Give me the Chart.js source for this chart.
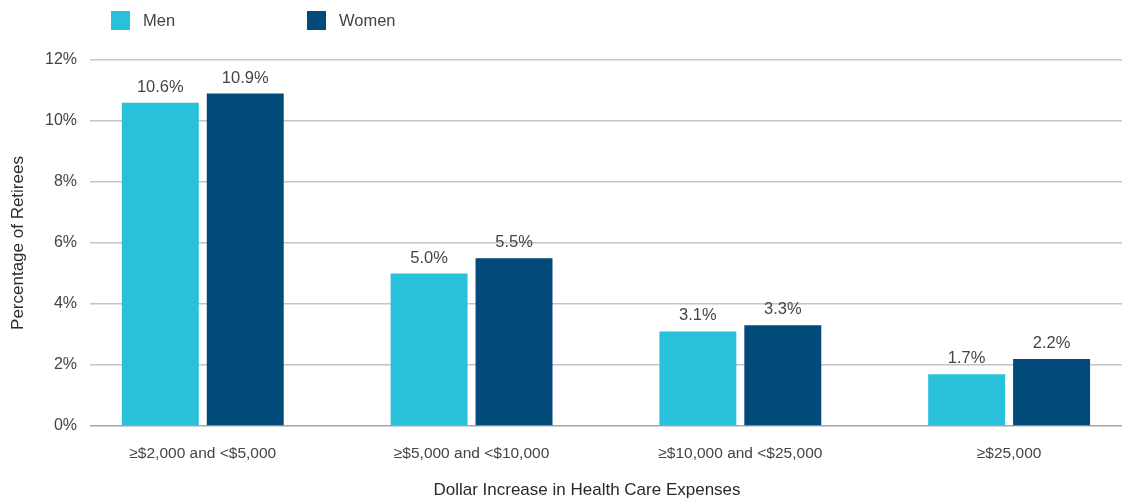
<!DOCTYPE html>
<html>
<head>
<meta charset="utf-8">
<script src="https://cdn.jsdelivr.net/npm/chart.js@4/dist/chart.umd.min.js"></script>
<style>
  body { margin: 0; background: #fff; font-family: "Liberation Sans", Arial, sans-serif; }
  #wrap { position: relative; width: 1122px; height: 502px; overflow: hidden; }
  #legend { position: absolute; top: 11px; left: 111px; display: flex; }
  .item { display: flex; align-items: center; width: 196px; font-size: 16.5px; color: #444; }
  .box { width: 19px; height: 19px; margin-right: 13px; }
</style>
</head>
<body>
<div id="wrap">
  <canvas id="chart"></canvas>
  <div id="legend"></div>
</div>
<script>
const categories = ["≥$2,000 and <$5,000", "≥$5,000 and <$10,000", "≥$10,000 and <$25,000", "≥$25,000"];
const men = [10.6, 5.0, 3.1, 1.7];
const women = [10.9, 5.5, 3.3, 2.2];
const seriesNames = ["Men", "Women"];
const seriesColors = ["#29c0da", "#014a7a"];
const xTitle = "Dollar Increase in Health Care Expenses";

document.addEventListener("DOMContentLoaded", function () {
    const ctx = document.getElementById("chart").getContext("2d");

    // value labels above each bar, plus the x title (sits a bit left of the axis centre)
    const barLabels = {
        id: "barLabels",
        afterDatasetsDraw(chart) {
            const c = chart.ctx;
            c.save();
            c.font = "16.5px 'Liberation Sans', Arial, sans-serif";
            c.fillStyle = "#444";
            c.textAlign = "center";
            c.textBaseline = "alphabetic";
            chart.data.datasets.forEach((ds, i) => {
                chart.getDatasetMeta(i).data.forEach((bar, j) => {
                    c.fillText(ds.data[j].y.toFixed(1) + "%", bar.x, bar.y - 11);
                });
            });
            c.font = "17px 'Liberation Sans', Arial, sans-serif";
            c.fillStyle = "#2a2a2a";
            c.textBaseline = "middle";
            c.fillText(xTitle, 587, chart.scales.x.bottom - 12);
            c.restore();
        }
    };

    const chart = new Chart(ctx, {
        type: "bar",
        data: {
            datasets: [men, women].map((vals, i) => ({
                label: seriesNames[i],
                data: vals.map((v, j) => ({ x: j, y: v })),
                backgroundColor: seriesColors[i],
                categoryPercentage: 0.632,
                barPercentage: 0.906
            }))
        },
        options: {
            responsive: true,
            maintainAspectRatio: false,
            animation: false,
            layout: { padding: { top: 60, left: 0, right: 0, bottom: 0 } },
            plugins: {
                legend: { display: false },
                tooltip: { enabled: false }
            },
            scales: {
                x: {
                    type: "linear",
                    offset: false,
                    min: -0.4196,
                    max: 3.42,
                    grid: { display: false, offset: false },
                    border: { display: false },
                    afterBuildTicks: s => { s.ticks = s.ticks.filter(t => Number.isInteger(t.value)); },
                    afterFit: s => { s.height = 76; },
                    ticks: {
                        stepSize: 1,
                        autoSkip: false,
                        maxRotation: 0,
                        padding: 10,
                        color: "#444",
                        font: { size: 15.5, family: "'Liberation Sans', Arial, sans-serif" },
                        callback: v => categories[v] ?? ""
                    }
                },
                y: {
                    min: 0,
                    max: 12,
                    border: { display: false },
                    afterFit: s => { s.width = 90; },
                    grid: {
                        drawTicks: false,
                        color: c => c.tick.value === 0 ? "#a6a6a6" : "#c4c4c4",
                        lineWidth: 1.5
                    },
                    ticks: {
                        stepSize: 2,
                        padding: 13,
                        color: "#444",
                        font: { size: 16, family: "'Liberation Sans', Arial, sans-serif" },
                        callback: v => v + "%"
                    },
                    title: {
                        display: true,
                        text: "Percentage of Retirees",
                        color: "#2a2a2a",
                        font: { size: 17, family: "'Liberation Sans', Arial, sans-serif" },
                        padding: { top: 8, bottom: 0 }
                    }
                }
            }
        },
        plugins: [barLabels]
    });

    const legend = document.getElementById("legend");
    chart.data.datasets.forEach(ds => {
        const item = document.createElement("div");
        item.className = "item";
        const box = document.createElement("span");
        box.className = "box";
        box.style.background = ds.backgroundColor;
        item.appendChild(box);
        item.appendChild(document.createTextNode(ds.label));
        legend.appendChild(item);
    });
});
</script>
</body>
</html>
